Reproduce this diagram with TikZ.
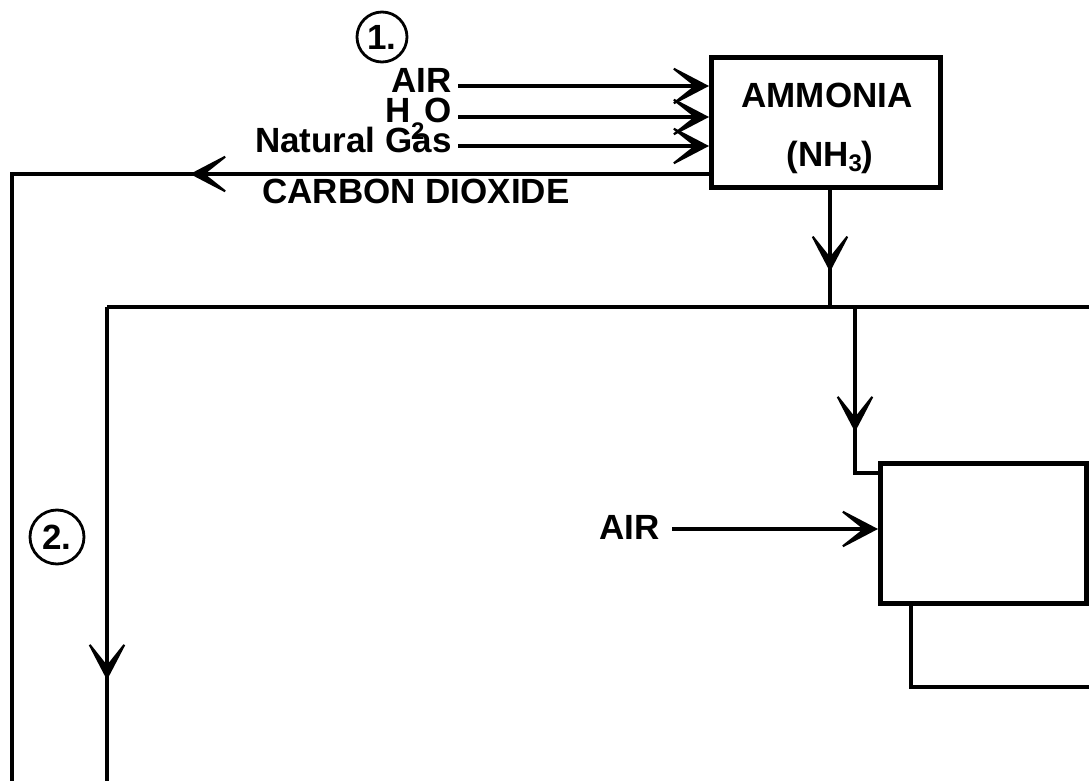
\documentclass[tikz,border=0pt]{standalone}
\usepackage{fontspec}
\setmainfont{Liberation Sans}
\usetikzlibrary{arrows.meta,decorations.markings,calc}
\tikzset{
  flow/.style={line width=2pt},
  boxst/.style={draw,line width=2.4pt,rectangle,inner sep=0pt},
  lbl/.style={inner sep=0pt,font=\fontsize{17.5}{20}\selectfont\bfseries},
  vtip/.tip={Stealth[length=22pt,width=23pt,inset=14.5pt,line width=1pt]},
  arrowat/.style={postaction={decorate},decoration={markings,mark=at position #1 with {\arrow{vtip}}}},
  numcirc/.style={draw,circle,line width=1.4pt,minimum size=25pt,inner sep=0pt,font=\fontsize{17.5}{20}\selectfont\bfseries}
}
\begin{document}
\begin{tikzpicture}[x=0.5pt,y=-0.5pt]
\useasboundingbox (0,0) rectangle (1089,781);
% boxes
\node[boxst,minimum width=114.5pt,minimum height=65pt,anchor=north west] (amm) at (709,55) {};
\node[lbl,anchor=base] (ammt) at (827,108) {AMMONIA};
\node[lbl,anchor=base] (nh3) at (830,167) {(NH\raisebox{-2.5pt}{\fontsize{12}{12}\selectfont\bfseries 3})};
\node[boxst,minimum width=103pt,minimum height=70pt,anchor=north west] (box2) at (878,461) {};
% inputs
\node[lbl,anchor=base east] (air1) at (452,93) {AIR};
\node[lbl,anchor=base east] (h2o) at (452,123) {H\raisebox{-8.5pt}{\fontsize{12}{12}\selectfont\bfseries 2}O};
\node[lbl,anchor=base east] (gas) at (452,153) {Natural Gas};
\node[lbl,anchor=base west] (co2) at (262,204) {CARBON DIOXIDE};
\node[lbl,anchor=base east] (air2) at (660,539) {AIR};
\node[numcirc] (n1) at (382,37) {1.};
\node[numcirc,minimum size=27pt] (n2) at (57,537) {2.};
% coordinates
\coordinate (a1) at (458,86);
\coordinate (a2) at (458,117);
\coordinate (a3) at (458,146);
\coordinate (b1) at (709,86);
\coordinate (b2) at (709,117);
\coordinate (b3) at (709,146);
\coordinate (co2s) at (709,174);
\coordinate (co2c) at (12,174);
\coordinate (co2e) at (12,781);
\coordinate (jn) at (830,307);
\coordinate (hl) at (107,307);
\coordinate (hr) at (1089,307);
\coordinate (vl) at (107,781);
\coordinate (j2) at (855,307);
\coordinate (b2in) at (878,473);
\coordinate (c1) at (672,529);
\coordinate (d1) at (911,601);
\coordinate (d3) at (1089,687);
% connectors
\draw[flow,-vtip] (a1) -- (b1);
\draw[flow,-vtip] (a2) -- (b2);
\draw[flow,-vtip] (a3) -- (b3);
\draw[flow,arrowat=259.5pt] (co2s) -- (co2c) -- (co2e);
\draw[flow,arrowat=41pt] (amm.south -| jn) -- (jn);
\draw[flow] (hl) -- (hr);
\draw[flow,arrowat=186.5pt] (hl) -- (vl);
\draw[flow,arrowat=62.5pt] (j2) |- (b2in);
\draw[flow,-vtip] (c1) -- (box2.west |- c1);
\draw[flow] (d1) |- (d3);
\end{tikzpicture}
\end{document}
